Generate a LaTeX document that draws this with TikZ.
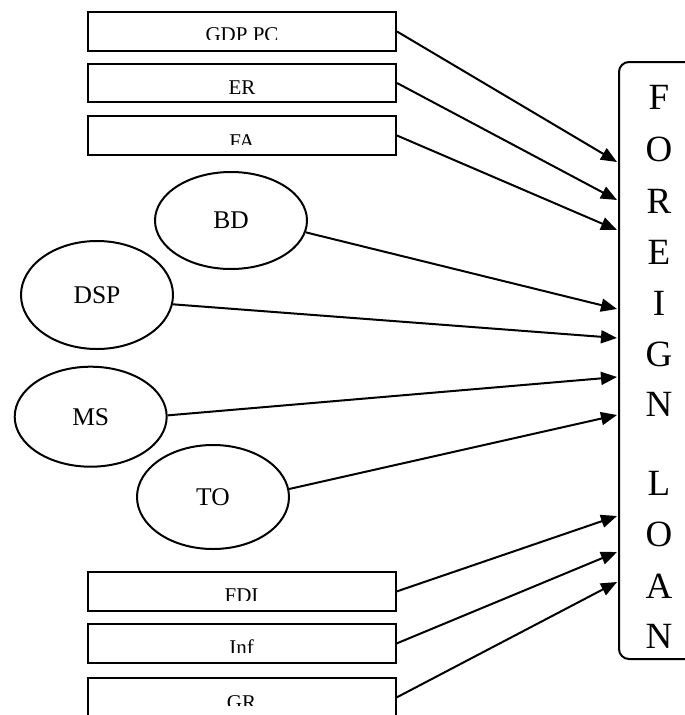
\documentclass[tikz,border=0pt]{standalone}
\usepackage{fontspec}
\setmainfont{Liberation Serif}
\usetikzlibrary{shapes.geometric,arrows.meta}
\tikzset{
  ln/.style={line width=2pt},
  box/.style={draw, ln, minimum width=308pt, minimum height=39pt, inner sep=0pt},
  boxtext/.style={inner sep=0pt, font=\fontsize{21}{24}\selectfont},
  ell/.style={draw, ln, ellipse, minimum width=152pt, inner sep=0pt, font=\fontsize{25.5}{28}\selectfont},
  letter/.style={inner sep=0pt, anchor=base, font=\fontsize{37}{40}\selectfont},
  arr/.style={ln, -{Triangle[length=16pt, width=13pt]}},
}
\begin{document}
\begin{tikzpicture}[x=1pt, y=-1pt]
\useasboundingbox (0,0) rectangle (685,715);
\clip (0,0) rectangle (685,715);
% boxes
\node[box] (gdp) at (242,31.5) {};
\node[box, minimum height=38pt] (er) at (242,83) {};
\node[box] (fa) at (242,135.5) {};
\node[box] (fdi) at (241.5,591.5) {};
\node[box] (inf) at (241.5,643.5) {};
\node[box] (gr) at (241.5,697.5) {};
\begin{scope}
\clip (gdp.north west) rectangle ([yshift=-28.5pt]gdp.north east);
\node[boxtext, anchor=base] (gdpt) at ([yshift=-30pt]gdp.north) {GDP PC};
\end{scope}
\begin{scope}
\clip (er.north west) rectangle ([yshift=-30pt]er.north east);
\node[boxtext, anchor=base] (ert) at ([yshift=-31.5pt]er.north) {ER};
\end{scope}
\begin{scope}
\clip (fa.north west) rectangle ([yshift=-29.5pt]fa.north east);
\node[boxtext, anchor=base] (fat) at ([yshift=-33pt]fa.north) {FA};
\end{scope}
\begin{scope}
\clip (fdi.north west) rectangle ([yshift=-29.5pt]fdi.north east);
\node[boxtext, anchor=base] (fdit) at ([yshift=-31.5pt]fdi.north) {FDI};
\end{scope}
\begin{scope}
\clip (inf.north west) rectangle ([yshift=-29pt]inf.north east);
\node[boxtext, anchor=base] (inft) at ([yshift=-31pt]inf.north) {Inf};
\end{scope}
\begin{scope}
\clip (gr.north west) rectangle ([yshift=-28.5pt]gr.north east);
\node[boxtext, anchor=base] (grt) at ([yshift=-32.5pt]gr.north) {GR};
\end{scope}
% ellipses
\node[ell, minimum height=97pt] (bd) at (231,220.5) {BD};
\node[ell, minimum height=108pt] (dsp) at (97,295) {DSP};
\node[ell, minimum height=100pt] (ms) at (90.7,416.7) {MS};
\node[ell, minimum height=104pt] (to) at (213,497) {TO};
% target
\node[draw, ln, rounded corners=10pt, minimum width=100pt, minimum height=597pt, anchor=north west, inner sep=0pt] (fl) at (618,61) {};
\node[letter] (l1) at (659,109) {F};
\node[letter] (l2) at (659,161) {O};
\node[letter] (l3) at (659,213) {R};
\node[letter] (l4) at (659,264) {E};
\node[letter] (l5) at (659,315) {I};
\node[letter] (l6) at (659,366) {G};
\node[letter] (l7) at (659,416) {N};
\node[letter] (l8) at (659,495) {L};
\node[letter] (l9) at (659,546) {O};
\node[letter] (l10) at (659,598) {A};
\node[letter] (l11) at (659,648) {N};
% arrow tips
\coordinate (t1) at (617,162);
\coordinate (t2) at (617,200);
\coordinate (t3) at (617,230);
\coordinate (t4) at (617,309);
\coordinate (t5) at (617,338);
\coordinate (t6) at (617,377);
\coordinate (t7) at (617,415);
\coordinate (t8) at (617,516);
\coordinate (t9) at (617,552);
\coordinate (t10) at (617,582);
\draw[arr] (gdp.east) -- (t1);
\draw[arr] (er.east) -- (t2);
\draw[arr] (fa.east) -- (t3);
\draw[arr] (bd.-9) -- (t4);
\draw[arr] (dsp.-7) -- (t5);
\draw[arr] (ms.1) -- (t6);
\draw[arr] (to.6) -- (t7);
\draw[arr] (fdi.east) -- (t8);
\draw[arr] (inf.east) -- (t9);
\draw[arr] (gr.east) -- (t10);
\end{tikzpicture}
\end{document}
